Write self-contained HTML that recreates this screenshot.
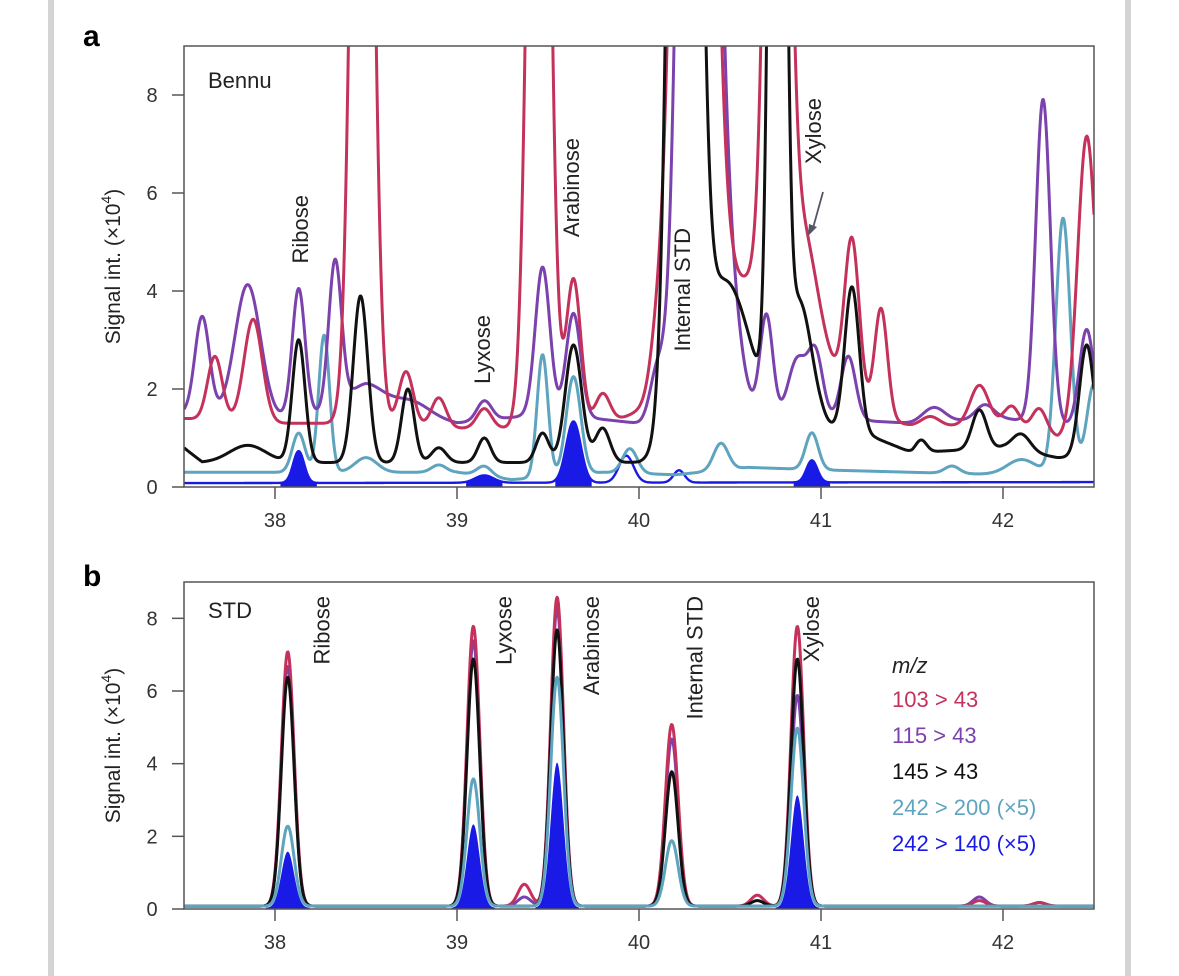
<!DOCTYPE html>
<html><head><meta charset="utf-8">
<style>
html,body{margin:0;padding:0;background:#fff;}
svg{display:block;font-family:"Liberation Sans",Arial,sans-serif;}
</style></head>
<body>
<svg id="fig" width="1179" height="976" viewBox="0 0 1179 976">
<rect x="48" y="0" width="6" height="976" fill="#d4d4d4"/>
<rect x="1125" y="0" width="6" height="976" fill="#d4d4d4"/>
<defs>
<clipPath id="clipA"><rect x="184" y="46" width="910" height="441"/></clipPath>
<clipPath id="clipB"><rect x="184" y="582" width="910" height="327"/></clipPath>
</defs>
<g id="panelA"></g>
<g id="panelB"></g>
</svg>
<script>
// ---- shared axis data ----
const xTicks = [38, 39, 40, 41, 42];
const yTicks = [0, 2, 4, 6, 8];
const xDomain = [37.5, 42.5];
const yDomain = [0, 9];
const seriesNames = ['103 > 43', '115 > 43', '145 > 43', '242 > 200 (×5)', '242 > 140 (×5)'];
const seriesColors = ['#c4325c', '#7b42ad', '#111111', '#5fa4bf', '#1a1ae6'];

// ---- panel a (Bennu) peaks: centers, heights, widths ----
const aRedC = [37.67, 37.88, 38.48, 38.72, 38.9, 39.15, 39.45, 39.64, 39.8, 40.1, 40.3, 40.65, 40.76, 40.9, 41.17, 41.33, 41.6, 41.87, 42.05, 42.2, 42.46];
const aRedH = [1.3, 2.1, 25, 1.1, 0.6, 0.4, 25, 3.0, 0.6, 0.8, 35, 2.8, 25, 2.0, 3.2, 2.2, 0.2, 0.8, 0.4, 0.5, 6.0];
const aRedS = [0.04, 0.05, 0.05, 0.04, 0.04, 0.04, 0.05, 0.04, 0.04, 0.04, 0.08, 0.3, 0.05, 0.08, 0.04, 0.035, 0.05, 0.05, 0.04, 0.04, 0.05];
const aRedBaseT = [37.5, 38, 38.5, 39, 39.5, 40, 40.5, 41, 41.5, 42, 42.3, 42.5];
const aRedBaseV = [1.4, 1.3, 1.3, 1.2, 1.2, 1.3, 1.5, 1.3, 1.2, 1.3, 1.0, 1.2];

const aPurC = [37.6, 37.85, 38.13, 38.33, 38.5, 38.75, 39.15, 39.47, 39.64, 40.1, 40.32, 40.45, 40.7, 40.87, 40.97, 41.15, 41.62, 41.9, 42.22, 42.46];
const aPurH = [2.0, 2.7, 2.6, 3.0, 0.5, 0.3, 0.4, 3.0, 2.1, 1.0, 40, 4.0, 2.1, 1.2, 1.3, 1.3, 0.3, 0.3, 6.6, 2.0];
const aPurS = [0.04, 0.07, 0.035, 0.035, 0.1, 0.1, 0.04, 0.04, 0.04, 0.04, 0.07, 0.08, 0.035, 0.05, 0.04, 0.04, 0.06, 0.05, 0.04, 0.04];
const aPurBaseT = [37.5, 38, 38.5, 39, 39.5, 40, 40.5, 41, 41.5, 42, 42.5];
const aPurBaseV = [1.5, 1.4, 1.6, 1.3, 1.5, 1.3, 1.4, 1.4, 1.3, 1.4, 1.2];

const aBlkC = [37.85, 38.13, 38.47, 38.73, 38.9, 39.15, 39.47, 39.64, 39.8, 40.25, 40.47, 40.76, 40.88, 41.17, 41.55, 41.87, 42.1, 42.46];
const aBlkH = [0.35, 2.5, 3.4, 1.5, 0.3, 0.5, 0.6, 2.4, 0.7, 40, 3.3, 30, 2.6, 3.0, 0.25, 0.8, 0.35, 2.3];
const aBlkS = [0.1, 0.035, 0.04, 0.035, 0.04, 0.035, 0.035, 0.045, 0.04, 0.06, 0.14, 0.035, 0.07, 0.04, 0.03, 0.04, 0.05, 0.04];
const aBlkBaseT = [37.5, 37.6, 38, 38.5, 39, 39.5, 40, 40.6, 41, 41.3, 41.5, 42, 42.3, 42.5];
const aBlkBaseV = [0.8, 0.5, 0.5, 0.5, 0.5, 0.5, 0.5, 1.0, 1.2, 1.0, 0.7, 0.8, 0.6, 0.6];

const aTealC = [38.13, 38.27, 38.5, 38.9, 39.15, 39.47, 39.64, 39.95, 40.45, 40.95, 41.72, 42.1, 42.33, 42.5];
const aTealH = [0.8, 2.8, 0.3, 0.15, 0.2, 2.5, 2.0, 0.5, 0.55, 0.75, 0.15, 0.3, 5.2, 1.8];
const aTealS = [0.035, 0.03, 0.06, 0.04, 0.04, 0.03, 0.04, 0.04, 0.04, 0.035, 0.04, 0.08, 0.04, 0.04];
const aTealBaseT = [37.5, 38, 39, 39.3, 39.8, 40.2, 40.6, 41, 41.5, 42, 42.5];
const aTealBaseV = [0.3, 0.3, 0.3, 0.15, 0.3, 0.25, 0.4, 0.35, 0.3, 0.25, 0.3];

const aBlueC = [38.13, 39.15, 39.64, 39.93, 40.22, 40.95];
const aBlueH = [0.65, 0.15, 1.25, 0.55, 0.25, 0.45];
const aBlueS = [0.03, 0.05, 0.04, 0.04, 0.03, 0.03];
const aBlueBaseT = [37.5, 42.5];
const aBlueBaseV = [0.08, 0.1];
const aBlueFilled = [38.13, 39.15, 39.64, 40.95];

// ---- panel b (standards) peaks ----
const bRedC = [38.07, 39.09, 39.37, 39.55, 40.18, 40.65, 40.87, 41.87, 42.2];
const bRedH = [7.0, 7.7, 0.6, 8.5, 5.0, 0.3, 7.7, 0.15, 0.1];
const bPurC = [38.07, 39.09, 39.37, 39.55, 40.18, 40.87, 41.87];
const bPurH = [6.6, 7.3, 0.25, 8.2, 4.6, 5.8, 0.25];
const bBlkC = [38.07, 39.09, 39.55, 40.18, 40.65, 40.87];
const bBlkH = [6.3, 6.8, 7.6, 3.7, 0.15, 6.8];
const bTealC = [38.07, 39.09, 39.55, 40.18, 40.87];
const bTealH = [2.2, 3.5, 6.3, 1.8, 4.9];
const bBlueC = [38.07, 39.09, 39.55, 40.87];
const bBlueH = [1.55, 2.3, 4.0, 3.1];
const bSigma = 0.035;
const bBase = 0.08;

// ---- labels ----
const aLabels = ['Ribose', 'Lyxose', 'Arabinose', 'Internal STD', 'Xylose'];
const aLabelT = [38.18, 39.18, 39.67, 40.28, 41.0];
const aLabelTop = [195, 315, 138, 228, 98];
const bLabels = ['Ribose', 'Lyxose', 'Arabinose', 'Internal STD', 'Xylose'];
const bLabelT = [38.3, 39.3, 39.78, 40.35, 40.99];

const NS = 'http://www.w3.org/2000/svg';
function mk(tag, attrs, parent) {
  const e = document.createElementNS(NS, tag);
  for (const k in attrs) e.setAttribute(k, attrs[k]);
  parent.appendChild(e);
  return e;
}
function interp(ts, vs, t) {
  if (t <= ts[0]) return vs[0];
  for (let i = 1; i < ts.length; i++) {
    if (t <= ts[i]) { const f = (t - ts[i-1]) / (ts[i] - ts[i-1]); return vs[i-1] + f * (vs[i] - vs[i-1]); }
  }
  return vs[vs.length - 1];
}
function signal(t, C, H, S, bt, bv) {
  let v = interp(bt, bv, t);
  for (let i = 0; i < C.length; i++) {
    const s = Array.isArray(S) ? S[i] : S;
    const d = (t - C[i]) / s;
    v += H[i] * Math.exp(-0.5 * d * d);
  }
  return v;
}

function makePanel(g, top, bottom, clipId) {
  const left = 184, right = 1094;
  const xs = t => left + (t - xDomain[0]) / (xDomain[1] - xDomain[0]) * (right - left);
  const ys = v => bottom - (v - yDomain[0]) / (yDomain[1] - yDomain[0]) * (bottom - top);
  return {left, right, top, bottom, xs, ys, clipId, g};
}

function drawAxes(P, prefix) {
  const {g, left, right, top, bottom, xs, ys} = P;
  const frame = mk('rect', {x: left, y: top, width: right - left, height: bottom - top, fill: 'none', stroke: '#555', 'stroke-width': 1.5}, g);
  
  
  xTicks.forEach(t => {
    const x = xs(t);
    const tk = mk('line', {x1: x, x2: x, y1: bottom, y2: bottom + 12, stroke: '#555', 'stroke-width': 1.5}, g);
    
    
    const tx = mk('text', {x: x, y: bottom + 40, 'text-anchor': 'middle', 'font-size': 20, fill: '#333'}, g);
    tx.textContent = t;
    
    
  });
  yTicks.forEach(v => {
    const y = ys(v);
    const tk = mk('line', {x1: left - 12, x2: left, y1: y, y2: y, stroke: '#555', 'stroke-width': 1.5}, g);
    
    
    const tx = mk('text', {x: left - 32, y: y + 7, 'text-anchor': 'middle', 'font-size': 20, fill: '#333'}, g);
    tx.textContent = v;
    
    
  });
  const cy = (top + bottom) / 2;
  const yt = mk('text', {x: 0, y: 0, transform: 'translate(120,' + cy + ') rotate(-90)', 'text-anchor': 'middle', 'font-size': 21, fill: '#222'}, g);
  yt.innerHTML = 'Signal int. (×10<tspan dy="-9" font-size="14">4</tspan><tspan dy="9">)</tspan>';
  
  
}

function buildPath(P, fn) {
  let d = '';
  const n = 1400;
  for (let i = 0; i <= n; i++) {
    const t = xDomain[0] + (xDomain[1] - xDomain[0]) * i / n;
    let v = fn(t);
    v = Math.min(v, 12);
    d += (i ? 'L' : 'M') + P.xs(t).toFixed(2) + ',' + P.ys(v).toFixed(2);
  }
  return d;
}
function drawLine(P, fn, color, name, w) {
  const p = mk('path', {d: buildPath(P, fn), fill: 'none', stroke: color, 'stroke-width': w || 3, 'stroke-linejoin': 'round', 'clip-path': 'url(#' + P.clipId + ')'}, P.g);
  
  
}
function drawFill(P, fn, color, centers, halfW, name) {
  centers.forEach(c => {
    let d = '';
    const a = c - halfW, b = c + halfW, n = 60;
    d += 'M' + P.xs(a) + ',' + P.ys(0);
    for (let i = 0; i <= n; i++) {
      const t = a + (b - a) * i / n;
      d += 'L' + P.xs(t).toFixed(2) + ',' + P.ys(fn(t)).toFixed(2);
    }
    d += 'L' + P.xs(b) + ',' + P.ys(0) + 'Z';
    const p = mk('path', {d: d, fill: color, stroke: 'none', 'clip-path': 'url(#' + P.clipId + ')'}, P.g);
    
    
  });
}
function vLabel(g, text, x, yTop, name) {
  const t = mk('text', {x: 0, y: 0, transform: 'translate(' + x + ',' + yTop + ') rotate(-90)', 'text-anchor': 'end', 'font-size': 22, fill: '#222'}, g);
  t.textContent = text;
  
  
}

// ---- Panel A ----
const gA = document.getElementById('panelA');
const PA = makePanel(gA, 46, 487, 'clipA');
const pl = mk('text', {x: 83, y: 46, 'font-size': 30, 'font-weight': 'bold', fill: '#000'}, gA);
pl.textContent = 'a';


const fA = [
  t => signal(t, aRedC, aRedH, aRedS, aRedBaseT, aRedBaseV),
  t => signal(t, aPurC, aPurH, aPurS, aPurBaseT, aPurBaseV),
  t => signal(t, aBlkC, aBlkH, aBlkS, aBlkBaseT, aBlkBaseV),
  t => signal(t, aTealC, aTealH, aTealS, aTealBaseT, aTealBaseV),
  t => signal(t, aBlueC, aBlueH, aBlueS, aBlueBaseT, aBlueBaseV)
];
drawFill(PA, fA[4], seriesColors[4], aBlueFilled, 0.1, 'a-blue-peak-fill');
drawLine(PA, fA[4], seriesColors[4], 'a-series-242-140', 2.4);
drawLine(PA, fA[3], seriesColors[3], 'a-series-242-200');
drawLine(PA, fA[1], seriesColors[1], 'a-series-115-43');
drawLine(PA, fA[0], seriesColors[0], 'a-series-103-43');
drawLine(PA, fA[2], seriesColors[2], 'a-series-145-43');
drawAxes(PA, 'a');
const bn = mk('text', {x: 208, y: 88, 'font-size': 22, fill: '#222'}, gA);
bn.textContent = 'Bennu';


aLabels.forEach((s, i) => vLabel(gA, s, PA.xs(aLabelT[i]) + 0, aLabelTop[i], 'a-peak-label-' + s.toLowerCase().replace(' ', '-')));
const arr = mk('line', {x1: 823, y1: 192, x2: 813, y2: 228, stroke: '#556', 'stroke-width': 1.8}, gA);


const ah = mk('polygon', {points: '808,236 809,224 817,227', fill: '#556'}, gA);



// ---- Panel B ----
const gB = document.getElementById('panelB');
const PB = makePanel(gB, 582, 909, 'clipB');
const plb = mk('text', {x: 83, y: 586, 'font-size': 30, 'font-weight': 'bold', fill: '#000'}, gB);
plb.textContent = 'b';


const flat = [[37.5, 42.5], [bBase, bBase]];
const fB = [
  t => signal(t, bRedC, bRedH, bSigma, flat[0], flat[1]),
  t => signal(t, bPurC, bPurH, bSigma, flat[0], flat[1]),
  t => signal(t, bBlkC, bBlkH, bSigma, flat[0], flat[1]),
  t => signal(t, bTealC, bTealH, bSigma, flat[0], flat[1]),
  t => signal(t, bBlueC, bBlueH, bSigma, [37.5, 42.5], [0.03, 0.03])
];
drawLine(PB, fB[1], seriesColors[1], 'b-series-115-43');
drawLine(PB, fB[0], seriesColors[0], 'b-series-103-43');
drawLine(PB, fB[2], seriesColors[2], 'b-series-145-43');
drawFill(PB, fB[4], seriesColors[4], bBlueC, 0.12, 'b-blue-peak-fill');
drawLine(PB, fB[3], seriesColors[3], 'b-series-242-200');
drawAxes(PB, 'b');
const sd = mk('text', {x: 208, y: 618, 'font-size': 22, fill: '#222'}, gB);
sd.textContent = 'STD';


bLabels.forEach((s, i) => vLabel(gB, s, PB.xs(bLabelT[i]), 596, 'b-peak-label-' + s.toLowerCase().replace(' ', '-')));

// legend
const lg = mk('g', {}, gB);


const mz = mk('text', {x: 892, y: 673, 'font-size': 22, 'font-style': 'italic', fill: '#222'}, lg);
mz.textContent = 'm/z';


seriesNames.forEach((s, i) => {
  const t = mk('text', {x: 892, y: 707 + i * 36, 'font-size': 22, fill: seriesColors[i]}, lg);
  t.textContent = s;
  
  
});
</script>
</body></html>
